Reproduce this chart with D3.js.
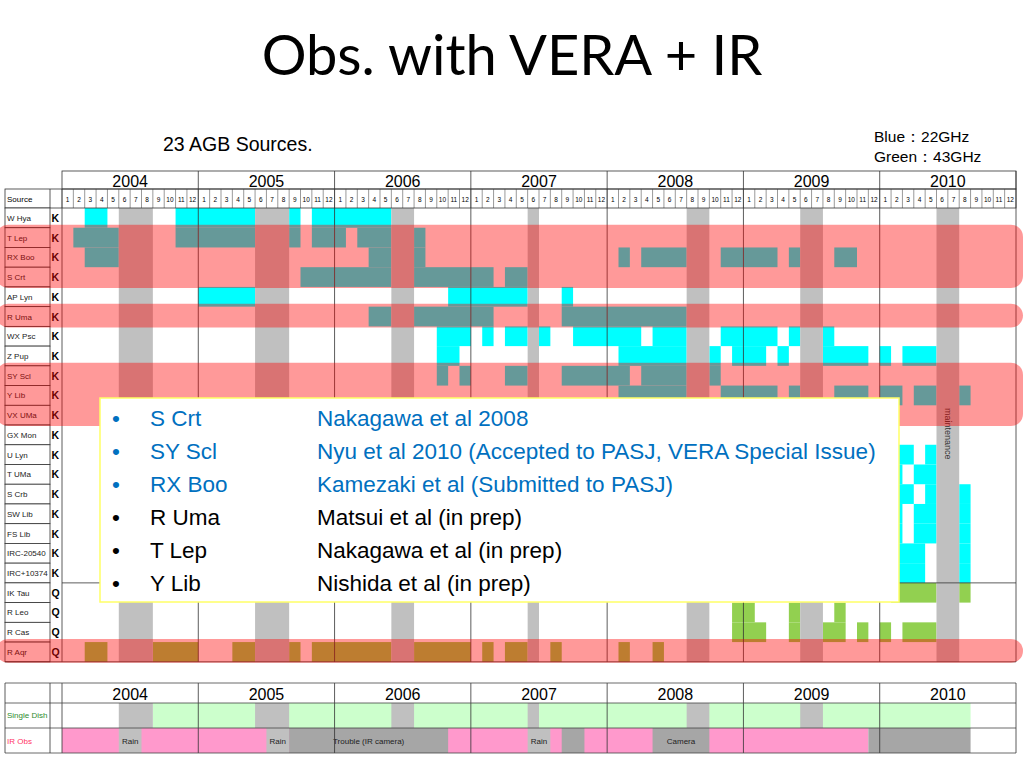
<!DOCTYPE html>
<meta charset="utf-8">
<script src="https://d3js.org/d3.v7.min.js"></script>
<style>
  body { margin: 0; background: #fff; }
  text { font-family: "Liberation Sans", Arial, sans-serif; }
</style>
<body>
<div id="chart"></div>
<script>
// data
const years = [2004, 2005, 2006, 2007, 2008, 2009, 2010];
const monthLabels = ["1", "2", "3", "4", "5", "6", "7", "8", "9", "10", "11", "12"];

const sources = ["W Hya", "T Lep", "RX Boo", "S Crt", "AP Lyn", "R Uma", "WX Psc", "Z Pup", "SY Scl", "Y Lib",
  "VX UMa", "GX Mon", "U Lyn", "T UMa", "S Crb", "SW Lib", "FS Lib", "IRC-20540", "IRC+10374",
  "IK Tau", "R Leo", "R Cas", "R Aqr"];
const bandOf = ["K", "K", "K", "K", "K", "K", "K", "K", "K", "K", "K", "K", "K", "K", "K", "K", "K", "K", "K",
  "Q", "Q", "Q", "Q"];

// observed months per source, [first, last]
const obs = {
  "W Hya": [["2004-03", "2004-04"], ["2004-11", "2005-05"], ["2005-09", "2005-09"], ["2005-11", "2006-05"]],
  "T Lep": [["2004-02", "2004-05"], ["2004-11", "2005-05"], ["2005-09", "2005-09"], ["2005-11", "2006-01"], ["2006-03", "2006-05"], ["2006-08", "2006-08"]],
  "RX Boo": [["2004-03", "2004-05"], ["2006-04", "2006-05"], ["2006-08", "2006-08"], ["2008-02", "2008-02"], ["2008-04", "2008-07"], ["2008-11", "2009-03"], ["2009-05", "2009-05"], ["2009-09", "2009-10"]],
  "S Crt": [["2005-10", "2006-05"], ["2006-08", "2007-02"], ["2007-04", "2007-05"]],
  "AP Lyn": [["2005-01", "2005-05"], ["2006-11", "2007-05"], ["2007-09", "2007-09"]],
  "R Uma": [["2006-04", "2006-05"], ["2006-08", "2007-02"], ["2007-09", "2008-07"]],
  "WX Psc": [["2006-10", "2006-12"], ["2007-02", "2007-02"], ["2007-04", "2007-05"], ["2007-07", "2007-07"], ["2007-10", "2008-03"], ["2008-05", "2008-07"], ["2008-11", "2009-03"], ["2009-05", "2009-05"], ["2009-08", "2009-08"]],
  "Z Pup": [["2006-10", "2006-11"], ["2008-02", "2008-07"], ["2008-10", "2008-10"], ["2008-12", "2009-02"], ["2009-04", "2009-04"], ["2009-08", "2009-11"], ["2010-01", "2010-01"], ["2010-03", "2010-05"]],
  "SY Scl": [["2006-10", "2006-10"], ["2006-12", "2006-12"], ["2007-04", "2007-05"], ["2007-09", "2008-02"], ["2008-04", "2008-07"], ["2008-10", "2008-10"]],
  "Y Lib": [["2008-02", "2008-07"], ["2008-11", "2009-03"], ["2009-05", "2009-05"], ["2009-09", "2009-11"], ["2010-01", "2010-02"], ["2010-04", "2010-05"], ["2010-08", "2010-08"]],
  "VX UMa": [],
  "GX Mon": [],
  "U Lyn": [["2010-02", "2010-03"], ["2010-05", "2010-05"]],
  "T UMa": [["2010-02", "2010-02"], ["2010-04", "2010-05"]],
  "S Crb": [["2010-02", "2010-03"], ["2010-05", "2010-05"], ["2010-08", "2010-08"]],
  "SW Lib": [["2010-02", "2010-02"], ["2010-04", "2010-05"], ["2010-08", "2010-08"]],
  "FS Lib": [["2010-02", "2010-02"], ["2010-04", "2010-05"], ["2010-08", "2010-08"]],
  "IRC-20540": [["2010-02", "2010-04"], ["2010-08", "2010-08"]],
  "IRC+10374": [["2010-02", "2010-04"], ["2010-08", "2010-08"]],
  "IK Tau": [["2010-02", "2010-05"], ["2010-08", "2010-08"]],
  "R Leo": [["2008-12", "2009-01"], ["2009-05", "2009-05"], ["2009-09", "2009-09"]],
  "R Cas": [["2008-12", "2009-02"], ["2009-05", "2009-05"], ["2009-08", "2009-09"], ["2009-11", "2009-11"], ["2010-01", "2010-01"], ["2010-03", "2010-05"]],
  "R Aqr": [["2004-03", "2004-04"], ["2004-09", "2004-12"], ["2005-04", "2005-05"], ["2005-09", "2005-09"], ["2005-11", "2006-05"], ["2006-08", "2006-12"], ["2007-02", "2007-02"], ["2007-04", "2007-05"], ["2007-08", "2007-08"], ["2008-02", "2008-02"], ["2008-05", "2008-05"]]
};

// maintenance (gray columns)
const maintenance = [["2004-06", "2004-08"], ["2005-06", "2005-08"], ["2006-06", "2006-07"], ["2007-06", "2007-06"],
  ["2008-08", "2008-09"], ["2009-06", "2009-07"], ["2010-06", "2010-07"]];

// highlighted (published) sources
const highlights = [["T Lep", "S Crt"], ["R Uma", "R Uma"], ["SY Scl", "VX UMa"], ["R Aqr", "R Aqr"]];

// bottom table
const singleDish = [["2004-09", "2010-08"]];
const singleDishOff = maintenance.slice(0, 6);
const irObs = [["2004-01", "2009-11"]];
const irOff = [
  { from: "2004-06", to: "2004-07", kind: "rain", label: "Rain" },
  { from: "2005-07", to: "2005-08", kind: "rain", label: "Rain" },
  { from: "2005-09", to: "2006-10", kind: "trouble", label: "Trouble (IR camera)" },
  { from: "2007-06", to: "2007-07", kind: "rain", label: "Rain" },
  { from: "2007-09", to: "2007-10", kind: "trouble", label: "" },
  { from: "2008-05", to: "2008-09", kind: "trouble", label: "Camera" },
  { from: "2009-12", to: "2010-08", kind: "trouble", label: "" }
];

const papers = [
  { name: "S Crt", ref: "Nakagawa et al 2008", blue: true },
  { name: "SY Scl", ref: "Nyu et al 2010 (Accepted to PASJ, VERA Special Issue)", blue: true },
  { name: "RX Boo", ref: "Kamezaki et al (Submitted to PASJ)", blue: true },
  { name: "R Uma", ref: "Matsui et al (in prep)", blue: false },
  { name: "T Lep", ref: "Nakagawa et al (in prep)", blue: false },
  { name: "Y Lib", ref: "Nishida et al (in prep)", blue: false }
];

// helpers
function mi(s) {
  const p = s.split("-");
  return (+p[0] - years[0]) * 12 + (+p[1] - 1);
}

const width = 1024, height = 768;
const svg = d3.select("#chart").append("svg")
  .attr("width", width).attr("height", height);

const x = d3.scaleLinear().domain([0, years.length * 12]).range([62, 1016]);
const y = d3.scaleBand().domain(sources).range([208, 661.8]);
const mw = x(1) - x(0);
const gridTop = 208, gridBottom = 661.8;

// title
svg.append("text").attr("x", 512).attr("y", 75).attr("text-anchor", "middle")
  .style("font-family", "Lato, 'Open Sans', sans-serif").style("font-size", "56px").style("fill", "#000")
  .text("Obs. with VERA + IR");

svg.append("text").attr("x", 163).attr("y", 151).style("font-size", "19.5px").text("23 AGB Sources.");
svg.append("text").attr("x", 874).attr("y", 142).style("font-size", "15.5px").text("Blue：22GHz");
svg.append("text").attr("x", 874).attr("y", 162).style("font-size", "15.5px").text("Green：43GHz");

// ---- main table ----
const cells = [];
sources.forEach((s, i) => {
  obs[s].forEach(r => cells.push({ src: s, a: mi(r[0]), b: mi(r[1]), band: bandOf[i] }));
});

svg.append("g").selectAll("rect").data(cells).join("rect")
  .attr("x", d => x(d.a)).attr("width", d => x(d.b + 1) - x(d.a))
  .attr("y", d => y(d.src)).attr("height", y.bandwidth())
  .attr("fill", d => d.band == "K" ? "#00ffff" : "#92d050");

svg.append("g").selectAll("rect").data(maintenance).join("rect")
  .attr("x", d => x(mi(d[0]))).attr("width", d => x(mi(d[1]) + 1) - x(mi(d[0])))
  .attr("y", gridTop).attr("height", gridBottom - gridTop)
  .attr("fill", "#c0c0c0");

// maintenance label
const mx = (x(mi("2010-06")) + x(mi("2010-07") + 1)) / 2;
svg.append("text").attr("transform", `translate(${mx - 3},408) rotate(90)`)
  .style("font-size", "9px").style("fill", "#333").text("maintenance");

// header rows
const yearRow = svg.append("g");
years.forEach((yr, i) => {
  const xa = x(i * 12), xb = x(i * 12 + 12);
  yearRow.append("text").attr("x", (xa + xb) / 2).attr("y", 187).attr("text-anchor", "middle")
    .style("font-size", "16px").text(yr);
});
yearRow.append("rect").attr("x", 62).attr("y", 171).attr("width", 1016 - 62).attr("height", 18)
  .attr("fill", "none").attr("stroke", "#333").attr("stroke-width", 0.8);

const monthRow = svg.append("g");
d3.range(years.length * 12).forEach(k => {
  monthRow.append("text").attr("x", x(k) + mw / 2).attr("y", 202).attr("text-anchor", "middle")
    .style("font-size", "6.5px").text(monthLabels[k % 12]);
  monthRow.append("line").attr("x1", x(k)).attr("x2", x(k)).attr("y1", 189).attr("y2", 208)
    .attr("stroke", "#555").attr("stroke-width", 0.6);
});
monthRow.append("rect").attr("x", 5).attr("y", 189).attr("width", 1016 - 5).attr("height", 19)
  .attr("fill", "none").attr("stroke", "#333").attr("stroke-width", 0.8);
monthRow.append("line").attr("x1", 50).attr("x2", 50).attr("y1", 189).attr("y2", 208).attr("stroke", "#333").attr("stroke-width", 0.8);
monthRow.append("text").attr("x", 7).attr("y", 202).style("font-size", "8px").text("Source");

// source labels
const lab = svg.append("g");
sources.forEach((s, i) => {
  const yy = y(s);
  lab.append("rect").attr("x", 5).attr("y", yy).attr("width", 45).attr("height", y.bandwidth())
    .attr("fill", "#fff").attr("stroke", "#333").attr("stroke-width", 0.8);
  lab.append("text").attr("x", 7).attr("y", yy + y.bandwidth() / 2 + 3).style("font-size", "8px")
    .style("fill", "#222").text(s);
  lab.append("text").attr("x", 51.5).attr("y", yy + y.bandwidth() / 2 + 4).style("font-size", "10.5px")
    .style("font-weight", "bold").text(bandOf[i]);
});
lab.append("line").attr("x1", 62).attr("x2", 62).attr("y1", 189).attr("y2", gridBottom).attr("stroke", "#333").attr("stroke-width", 0.8);

// year lines and frame
years.forEach((yr, i) => {
  if (i == 0) return;
  svg.append("line").attr("x1", x(i * 12)).attr("x2", x(i * 12)).attr("y1", 171).attr("y2", gridBottom)
    .attr("stroke", "#333").attr("stroke-width", 0.8);
});
svg.append("line").attr("x1", 1016).attr("x2", 1016).attr("y1", 171).attr("y2", gridBottom).attr("stroke", "#333").attr("stroke-width", 0.8);
svg.append("line").attr("x1", 5).attr("x2", 1016).attr("y1", gridBottom).attr("y2", gridBottom).attr("stroke", "#333").attr("stroke-width", 0.8);
const kq = y(sources[bandOf.indexOf("Q")]);
svg.append("line").attr("x1", 62).attr("x2", 1016).attr("y1", kq).attr("y2", kq).attr("stroke", "#333").attr("stroke-width", 0.8);

// highlight bands
svg.append("g").selectAll("rect").data(highlights).join("rect")
  .attr("x", -4).attr("width", 1027)
  .attr("y", d => y(d[0]) - 3).attr("height", d => y(d[1]) + y.bandwidth() - y(d[0]) + 4)
  .attr("rx", 12).attr("fill", "rgba(255,0,0,0.4)");

// ---- bottom table ----
const b0 = 683, b1 = 703, b2 = 728, b3 = 753;
const bt = svg.append("g");
bt.selectAll(".sd").data(singleDish).join("rect")
  .attr("x", d => x(mi(d[0]))).attr("width", d => x(mi(d[1]) + 1) - x(mi(d[0])))
  .attr("y", b1).attr("height", b2 - b1).attr("fill", "#ccffcc");
bt.selectAll(".sdo").data(singleDishOff).join("rect")
  .attr("x", d => x(mi(d[0]))).attr("width", d => x(mi(d[1]) + 1) - x(mi(d[0])))
  .attr("y", b1).attr("height", b2 - b1).attr("fill", "#c0c0c0");
bt.selectAll(".ir").data(irObs).join("rect")
  .attr("x", d => x(mi(d[0]))).attr("width", d => x(mi(d[1]) + 1) - x(mi(d[0])))
  .attr("y", b2).attr("height", b3 - b2).attr("fill", "#ff99cc");
irOff.forEach(d => {
  const xa = x(mi(d.from)), xb = x(mi(d.to) + 1);
  bt.append("rect").attr("x", xa).attr("width", xb - xa).attr("y", b2).attr("height", b3 - b2)
    .attr("fill", d.kind == "rain" ? "#c0c0c0" : "#a6a6a6");
  if (d.label) bt.append("text").attr("x", (xa + xb) / 2).attr("y", b2 + 16).attr("text-anchor", "middle")
    .style("font-size", "8px").style("fill", "#222").text(d.label);
});
years.forEach((yr, i) => {
  const xa = x(i * 12), xb = x(i * 12 + 12);
  bt.append("text").attr("x", (xa + xb) / 2).attr("y", b1 - 3).attr("text-anchor", "middle")
    .style("font-size", "16px").text(yr);
  bt.append("line").attr("x1", xa).attr("x2", xa).attr("y1", b0).attr("y2", b3).attr("stroke", "#333").attr("stroke-width", 0.8);
});
[b0, b1, b2, b3].forEach(v => bt.append("line").attr("x1", 5).attr("x2", 1016).attr("y1", v).attr("y2", v)
  .attr("stroke", "#444").attr("stroke-width", 0.8));
[5, 50, 1016].forEach(v => bt.append("line").attr("x1", v).attr("x2", v).attr("y1", b0).attr("y2", b3)
  .attr("stroke", "#333").attr("stroke-width", 0.8));
bt.append("text").attr("x", 7).attr("y", b1 + 15).style("font-size", "8px").style("fill", "#2e8b2e").text("Single Dish");
bt.append("text").attr("x", 7).attr("y", b2 + 16).style("font-size", "8px").style("fill", "#ff3366").text("IR Obs");

// ---- text box ----
svg.append("rect").attr("x", 100).attr("y", 398).attr("width", 799).attr("height", 204)
  .attr("fill", "#fff").attr("stroke", "#ffff66").attr("stroke-width", 1.5);
const tb = svg.append("g");
papers.forEach((p, i) => {
  const yy = 426 + i * 33;
  const col = p.blue ? "#0070c0" : "#000";
  tb.append("text").attr("x", 112).attr("y", yy).style("font-size", "22.5px").style("fill", col).text("•");
  tb.append("text").attr("x", 150).attr("y", yy).style("font-size", "22.5px").style("fill", col).text(p.name);
  tb.append("text").attr("x", 317).attr("y", yy).style("font-size", "22.5px").style("fill", col).text(p.ref);
});
</script>
</body>
